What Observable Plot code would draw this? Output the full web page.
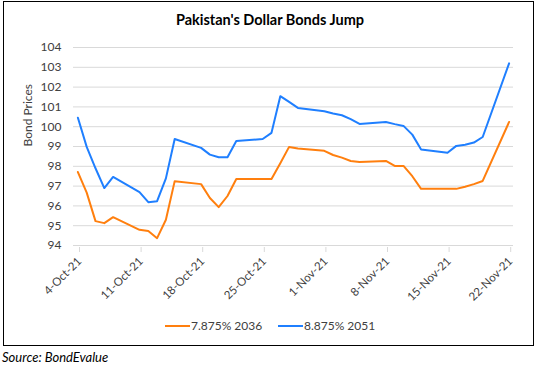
<!DOCTYPE html>
<html>
<head>
<meta charset="utf-8">
<script src="https://cdn.jsdelivr.net/npm/d3@7"></script>
<script src="https://cdn.jsdelivr.net/npm/@observablehq/plot@0.6"></script>
<style>
  html, body { margin: 0; padding: 0; background: #fff; width: 540px; height: 370px; overflow: hidden; }
  body { position: relative; font-family: Lato, "Open Sans", sans-serif; }
  #frame { position: absolute; left: 3px; top: 1px; width: 529px; height: 343px; border: 1.5px solid #000; }
  #title { position: absolute; left: 0; width: 540px; top: 11px; text-align: center; font-weight: bold; font-size: 14.5px; color: #000; }
  #chart { position: absolute; left: 0; top: 0; }
  #legend { position: absolute; top: 318px; left: 0; width: 540px; font-size: 12px; color: #404040; }
  .lg { position: absolute; top: 0; white-space: nowrap; }
  .sw { display: inline-block; width: 25px; height: 2.5px; vertical-align: middle; margin-right: 1px; position: relative; top: -1px; }
  #source { position: absolute; left: 2px; top: 349px; font-style: italic; font-size: 13px; color: #000; }
</style>
</head>
<body>
<div id="frame"></div>
<div id="title">Pakistan's Dollar Bonds Jump</div>
<div id="chart"></div>
<div id="legend"></div>
<div id="source">Source: BondEvalue</div>
<script>
// Trading dates (business days)
const dates = [
  "2021-10-04","2021-10-05","2021-10-06","2021-10-07","2021-10-08",
  "2021-10-11","2021-10-12","2021-10-13","2021-10-14","2021-10-15",
  "2021-10-18","2021-10-19","2021-10-20","2021-10-21","2021-10-22",
  "2021-10-25","2021-10-26","2021-10-27","2021-10-28","2021-10-29",
  "2021-11-01","2021-11-02","2021-11-03","2021-11-04","2021-11-05",
  "2021-11-08","2021-11-09","2021-11-10","2021-11-11","2021-11-12",
  "2021-11-15","2021-11-16","2021-11-17","2021-11-18","2021-11-19",
  "2021-11-22"
];
// 7.875% 2036
const bond2036 = [
  97.71, 96.67, 95.23, 95.13, 95.43,
  94.79, 94.73, 94.37, 95.30, 97.25,
  97.10, 96.40, 95.94, 96.50, 97.36,
  97.36, 97.36, 98.15, 98.98, 98.90,
  98.78, 98.57, 98.44, 98.27, 98.22,
  98.27, 98.02, 98.02, 97.50, 96.86,
  96.86, 96.86, 96.97, 97.10, 97.26,
  100.24
];
// 8.875% 2051
const bond2051 = [
  100.45, 98.98, 97.90, 96.90, 97.46,
  96.70, 96.19, 96.24, 97.39, 99.38,
  98.93, 98.59, 98.46, 98.46, 99.28,
  99.38, 99.69, 101.54, 101.25, 100.95,
  100.78, 100.67, 100.58, 100.38, 100.14,
  100.24, 100.13, 100.04, 99.60, 98.85,
  98.68, 99.03, 99.09, 99.20, 99.48,
  103.20
];
const seriesNames = ["7.875% 2036", "8.875% 2051"];
const seriesColors = ["#FF7F0E", "#1F7FFF"];
const yTicks = [94, 95, 96, 97, 98, 99, 100, 101, 102, 103, 104];
const xTickDates = ["2021-10-04","2021-10-11","2021-10-18","2021-10-25","2021-11-01","2021-11-08","2021-11-15","2021-11-22"];

const parse = d3.utcParse("%Y-%m-%d");
// points placed in the middle of each day (Excel date axis, between tick marks)
const mid = s => new Date(parse(s).getTime() + 12 * 3600 * 1000);
const rows = [];
dates.forEach((d, i) => {
  rows.push({date: mid(d), value: bond2036[i], series: seriesNames[0]});
  rows.push({date: mid(d), value: bond2051[i], series: seriesNames[1]});
});
const fmt = d3.utcFormat("%-d-%b-%y");

const plot = Plot.plot({
  width: 540,
  height: 310,
  marginLeft: 73,
  marginRight: 27,
  marginTop: 47,
  marginBottom: 65,
  style: {fontFamily: "Lato, 'Open Sans', sans-serif", background: "transparent", overflow: "visible"},
  x: {type: "utc", domain: [parse("2021-10-04"), parse("2021-11-23")]},
  y: {domain: [94, 104]},
  color: {domain: seriesNames, range: seriesColors},
  marks: [
    Plot.gridY(yTicks, {stroke: "#d9d9d9", strokeOpacity: 1, strokeWidth: 1}),
    Plot.ruleY([94], {stroke: "#d9d9d9", strokeWidth: 1}),
    Plot.axisY(yTicks, {tickSize: 0, tickPadding: 12, fontSize: 12, fill: "#404040", label: null}),
    Plot.text(["Bond Prices"], {frameAnchor: "left", dx: -45, rotate: -90, fontSize: 12, fill: "#404040"}),
    Plot.axisX(xTickDates.map(parse), {tickSize: 5, stroke: "#d9d9d9", tickRotate: -45, tickFormat: fmt, fontSize: 11.5, fill: "#404040", label: null, dx: 6, dy: 2}),
    Plot.line(rows, {x: "date", y: "value", z: "series", stroke: "series", strokeWidth: 2, curve: "linear"})
  ]
});
document.getElementById("chart").appendChild(plot);

// Legend
const legend = document.getElementById("legend");
const legendLeft = [165, 278];
seriesNames.forEach((name, i) => {
  const el = document.createElement("div");
  el.className = "lg";
  el.style.left = legendLeft[i] + "px";
  el.innerHTML = `<span class="sw" style="background:${seriesColors[i]}"></span>${name}`;
  legend.appendChild(el);
});
</script>
</body>
</html>
